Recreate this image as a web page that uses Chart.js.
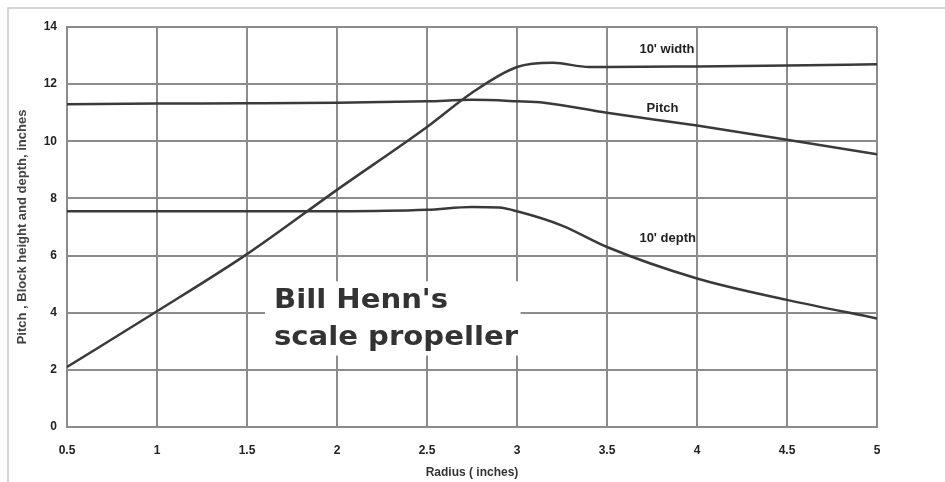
<!DOCTYPE html>
<html>
<head>
<meta charset="utf-8">
<script src="https://cdn.jsdelivr.net/npm/chart.js@4"></script>
<style>
  html, body { margin: 0; padding: 0; background: #fff; }
  #wrap { width: 945px; height: 482px; }
</style>
</head>
<body>
<div id="wrap"><canvas id="prop"></canvas></div>
<script>
// radius (inches) and values
const widthRadius = [0.5, 1, 1.5, 2, 2.5, 2.75, 3, 3.2, 3.4, 3.5, 4, 4.5, 5]
const widthValues = [2.1, 4.05, 6.05, 8.3, 10.5, 11.7, 12.6, 12.75, 12.6, 12.6, 12.62, 12.65, 12.7]

const pitchRadius = [0.5, 1, 1.5, 2, 2.5, 2.75, 3, 3.15, 3.5, 4, 4.5, 5]
const pitchValues = [11.3, 11.32, 11.33, 11.35, 11.4, 11.45, 11.4, 11.35, 11.0, 10.55, 10.05, 9.55]

const depthRadius = [0.5, 1, 1.5, 2, 2.5, 2.75, 2.9, 3, 3.25, 3.5, 4, 4.5, 5]
const depthValues = [7.55, 7.55, 7.55, 7.55, 7.6, 7.7, 7.68, 7.55, 7.05, 6.3, 5.2, 4.45, 3.8]

const seriesNames = ["10' width", 'Pitch', "10' depth"]
const xTicks = [0.5, 1, 1.5, 2, 2.5, 3, 3.5, 4, 4.5, 5]
const yTicks = [0, 2, 4, 6, 8, 10, 12, 14]

const toPoints = function (xs, ys) {
    return xs.map((x, i) => ({ x: x, y: ys[i] }))
}

const lineStyle = {
    borderColor: '#3a3a3a',
    borderWidth: 2.5,
    pointRadius: 0,
    fill: false,
    cubicInterpolationMode: 'monotone'
}

// labels next to curves + the title box in the plot
const notes = {
    id: 'notes',
    beforeDatasetsDraw(chart) {
        const ctx = chart.ctx
        const xs = chart.scales.x, ys = chart.scales.y
        ctx.save()
        // white patch behind the title
        const bx = xs.getPixelForValue(1.6), by = ys.getPixelForValue(5.1)
        ctx.fillStyle = '#fff'
        ctx.fillRect(bx, by, xs.getPixelForValue(3.02) - bx, ys.getPixelForValue(2.5) - by)
        // wide heavy lettering, as in the scan
        ctx.translate(274, 0)
        ctx.scale(1.12, 1)
        ctx.fillStyle = '#333'
        ctx.font = 'bold 26px "DejaVu Sans", sans-serif'
        ctx.textBaseline = 'alphabetic'
        ctx.fillText("Bill Henn's", 0, 308)
        ctx.fillText('scale propeller', 0, 345)
        ctx.restore()
    },
    afterDatasetsDraw(chart) {
        const ctx = chart.ctx
        const xs = chart.scales.x, ys = chart.scales.y
        ctx.save()
        ctx.fillStyle = '#222'
        ctx.font = 'bold 13px "Liberation Sans", sans-serif'
        ctx.textBaseline = 'middle'
        ctx.fillText(seriesNames[0], xs.getPixelForValue(3.68), ys.getPixelForValue(13.2))
        ctx.fillText(seriesNames[1], xs.getPixelForValue(3.72), ys.getPixelForValue(11.15))
        ctx.fillText(seriesNames[2], xs.getPixelForValue(3.68), ys.getPixelForValue(6.6))
        ctx.restore()
    }
}

// faint outline of the scanned page
const frame = {
    id: 'frame',
    beforeDraw(chart) {
        const ctx = chart.ctx
        ctx.save()
        ctx.strokeStyle = '#c8c8c8'
        ctx.lineWidth = 1.5
        ctx.strokeRect(8, 8, chart.width + 10, chart.height + 10)
        ctx.restore()
    }
}

new Chart(document.getElementById('prop'), {
    type: 'line',
    data: {
        datasets: [
            Object.assign({ label: seriesNames[0], data: toPoints(widthRadius, widthValues) }, lineStyle),
            Object.assign({ label: seriesNames[1], data: toPoints(pitchRadius, pitchValues) }, lineStyle),
            Object.assign({ label: seriesNames[2], data: toPoints(depthRadius, depthValues) }, lineStyle)
        ]
    },
    options: {
        responsive: true,
        maintainAspectRatio: false,
        animation: false,
        layout: { padding: { left: 10, top: 27, right: 68, bottom: 2 } },
        plugins: { legend: { display: false }, tooltip: { enabled: false } },
        scales: {
            x: {
                type: 'linear',
                min: 0.5,
                max: 5,
                afterBuildTicks(axis) { axis.ticks = xTicks.map(v => ({ value: v })) },
                afterFit(axis) { axis.height = 53 },
                grid: { color: '#8c8c8c', lineWidth: 2, drawTicks: false },
                border: { color: '#8c8c8c', width: 2 },
                ticks: {
                    padding: 16,
                    color: '#222',
                    font: { family: '"Liberation Sans", sans-serif', size: 12, weight: 'bold' },
                    callback: v => String(v)
                },
                title: {
                    display: true,
                    text: 'Radius ( inches)',
                    color: '#333',
                    padding: { top: 4, bottom: 0 },
                    font: { family: '"Liberation Sans", sans-serif', size: 12, weight: 'bold' }
                }
            },
            y: {
                min: 0,
                max: 14,
                afterBuildTicks(axis) { axis.ticks = yTicks.map(v => ({ value: v })) },
                afterFit(axis) { axis.width = 57 },
                grid: { color: '#8c8c8c', lineWidth: 2, drawTicks: false },
                border: { color: '#8c8c8c', width: 2 },
                ticks: {
                    padding: 10,
                    color: '#222',
                    font: { family: '"Liberation Sans", sans-serif', size: 12, weight: 'bold' }
                },
                title: {
                    display: true,
                    text: 'Pitch , Block height and depth, inches',
                    color: '#444',
                    padding: { top: 5, bottom: 2 },
                    font: { family: '"Liberation Sans", sans-serif', size: 13, weight: 'bold' }
                }
            }
        }
    },
    plugins: [frame, notes]
})
</script>
</body>
</html>
